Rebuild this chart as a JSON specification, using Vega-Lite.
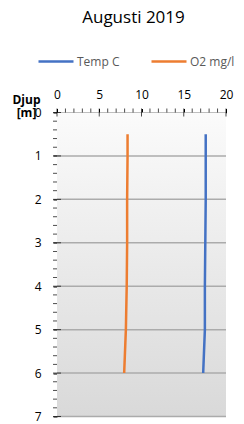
{
  "$schema": "https://vega.github.io/schema/vega-lite/v6.json",
  "width": 169,
  "height": 304,
  "autosize": {"type": "none"},
  "padding": {"left": 57, "top": 112.5, "right": 18, "bottom": 7.5},
  "background": "white",
  "config": {
    "font": "Open Sans",
    "view": {"stroke": null},
    "axis": {"domainColor": "#000000", "tickColor": "#000000", "labelColor": "#000000", "labelFont": "Open Sans", "labelFontSize": 12, "labelOverlap": false, "labelFlush": false, "grid": false}
  },
  "title": {"text": "Augusti 2019", "fontSize": 17, "fontWeight": "normal", "color": "#000000", "font": "Open Sans", "anchor": "middle", "dx": -8, "offset": 16},
  "datasets": {
    "bg": [{"x0": 0, "x1": 20, "y0": 0, "y1": 7}],
    "grid": [{"depth": 1}, {"depth": 2}, {"depth": 3}, {"depth": 4}, {"depth": 5}, {"depth": 6}, {"depth": 7}],
    "xticks": [{"value": 0}, {"value": 5}, {"value": 10}, {"value": 15}, {"value": 20}],
    "yticks": [{"depth": 0}, {"depth": 1}, {"depth": 2}, {"depth": 3}, {"depth": 4}, {"depth": 5}, {"depth": 6}, {"depth": 7}],
    "xminor": [{"value": 1}, {"value": 2}, {"value": 3}, {"value": 4}, {"value": 6}, {"value": 7}, {"value": 8}, {"value": 9}, {"value": 11}, {"value": 12}, {"value": 13}, {"value": 14}, {"value": 16}, {"value": 17}, {"value": 18}, {"value": 19}],
    "yminor": [{"depth": 0.2}, {"depth": 0.4}, {"depth": 0.6}, {"depth": 0.8}, {"depth": 1.2}, {"depth": 1.4}, {"depth": 1.6}, {"depth": 1.8}, {"depth": 2.2}, {"depth": 2.4}, {"depth": 2.6}, {"depth": 2.8}, {"depth": 3.2}, {"depth": 3.4}, {"depth": 3.6}, {"depth": 3.8}, {"depth": 4.2}, {"depth": 4.4}, {"depth": 4.6}, {"depth": 4.8}, {"depth": 5.2}, {"depth": 5.4}, {"depth": 5.6}, {"depth": 5.8}, {"depth": 6.2}, {"depth": 6.4}, {"depth": 6.6}, {"depth": 6.8}],
    "series": [
      {"series": "Temp C", "depth": 0.5, "value": 17.6},
      {"series": "Temp C", "depth": 1, "value": 17.6},
      {"series": "Temp C", "depth": 2, "value": 17.6},
      {"series": "Temp C", "depth": 3, "value": 17.55},
      {"series": "Temp C", "depth": 4, "value": 17.5},
      {"series": "Temp C", "depth": 5, "value": 17.5},
      {"series": "Temp C", "depth": 6, "value": 17.3},
      {"series": "O2 mg/l", "depth": 0.5, "value": 8.35},
      {"series": "O2 mg/l", "depth": 1, "value": 8.35},
      {"series": "O2 mg/l", "depth": 2, "value": 8.3},
      {"series": "O2 mg/l", "depth": 3, "value": 8.3},
      {"series": "O2 mg/l", "depth": 4, "value": 8.25},
      {"series": "O2 mg/l", "depth": 5, "value": 8.15},
      {"series": "O2 mg/l", "depth": 6, "value": 7.95}
    ]
  },
  "layer": [
    {
      "data": {"name": "bg"},
      "mark": {"type": "rect", "color": {"gradient": "linear", "x1": 0, "y1": 0, "x2": 0, "y2": 1, "stops": [{"offset": 0, "color": "#fbfbfb"}, {"offset": 1, "color": "#d9d9d9"}]}},
      "encoding": {
        "x": {"field": "x0", "type": "quantitative", "scale": {"domain": [0, 20], "nice": false},
          "axis": {"orient": "top", "title": null, "tickCount": 4, "labelOverlap": false, "labelFlush": false, "grid": false, "tickSize": 4, "labelPadding": 7}},
        "x2": {"field": "x1"},
        "y": {"field": "y0", "type": "quantitative", "scale": {"domain": [0, 7], "nice": false, "reverse": true},
          "axis": {"orient": "left", "tickCount": 7, "labelOverlap": false, "labelFlush": false, "grid": false, "tickSize": 4, "labelPadding": 12,
            "title": ["Djup", "[m]"], "titleAngle": 0, "titleAlign": "center", "titleBaseline": "alphabetic", "titleX": -31, "titleY": -9, "titleFontSize": 12, "titleFontWeight": "bold", "titleLineHeight": 13, "titleColor": "#000000"}},
        "y2": {"field": "y1"}
      }
    },
    {
      "data": {"name": "grid"},
      "mark": {"type": "rule", "color": "#ababab", "strokeWidth": 1.5},
      "encoding": {"y": {"field": "depth", "type": "quantitative"}}
    },
    {
      "data": {"name": "series"},
      "mark": {"type": "line", "strokeWidth": 2.5},
      "encoding": {
        "x": {"field": "value", "type": "quantitative"},
        "y": {"field": "depth", "type": "quantitative"},
        "order": {"field": "depth", "type": "quantitative"},
        "color": {"field": "series", "type": "nominal", "scale": {"domain": ["Temp C", "O2 mg/l"], "range": ["#4472C4", "#ED7D31"]},
          "legend": {"title": null, "orient": "none", "direction": "horizontal", "legendX": -20, "legendY": -70, "padding": 0, "symbolType": "stroke", "symbolSize": 1225, "symbolStrokeWidth": 2.5, "labelFontSize": 12, "labelColor": "#595959", "labelOffset": 2, "columnPadding": 26, "labelFont": "Open Sans"}}
      }
    },
    {
      "data": {"name": "yticks"},
      "mark": {"type": "tick", "orient": "horizontal", "size": 8, "thickness": 1, "color": "#000000"},
      "encoding": {"y": {"field": "depth", "type": "quantitative"}, "x": {"datum": 0, "type": "quantitative"}}
    },
    {
      "data": {"name": "xticks"},
      "mark": {"type": "tick", "orient": "vertical", "size": 8, "thickness": 1, "color": "#000000"},
      "encoding": {"x": {"field": "value", "type": "quantitative"}, "y": {"datum": 0, "type": "quantitative"}}
    },
    {
      "data": {"name": "yminor"},
      "mark": {"type": "tick", "orient": "horizontal", "size": 4, "thickness": 1, "color": "#000000", "xOffset": -2},
      "encoding": {"y": {"field": "depth", "type": "quantitative"}, "x": {"datum": 0, "type": "quantitative"}}
    },
    {
      "data": {"name": "xminor"},
      "mark": {"type": "tick", "orient": "vertical", "size": 4, "thickness": 1, "color": "#000000", "yOffset": -2},
      "encoding": {"x": {"field": "value", "type": "quantitative"}, "y": {"datum": 0, "type": "quantitative"}}
    }
  ]
}
